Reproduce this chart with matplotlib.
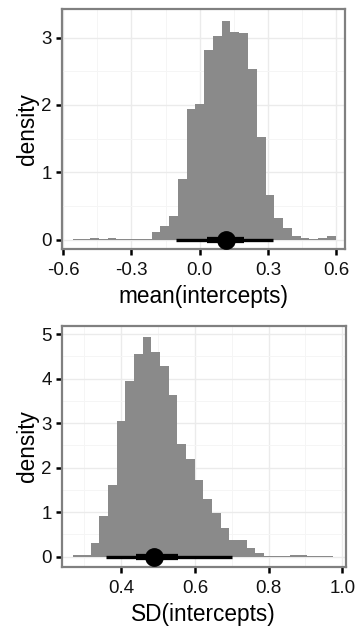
import matplotlib
matplotlib.use("Agg")
import matplotlib.pyplot as plt
import numpy as np

plt.rcParams["font.family"] = ["Liberation Sans", "DejaVu Sans"]

# --- data: histogram densities (30 bins each) and point-interval summaries ---
mean_bin_start = -0.558
mean_bin_width = 0.0385
mean_density = [0.01, 0.01, 0.025, 0.01, 0.025, 0.008, 0.008, 0.005, 0.01, 0.115,
                0.20, 0.35, 0.90, 1.94, 2.01, 2.81, 3.03, 3.25, 3.09, 3.07,
                2.53, 1.52, 0.66, 0.32, 0.17, 0.055, 0.02, 0.01, 0.025, 0.055]
mean_point = 0.117
mean_inner = (0.034, 0.195)
mean_outer = (-0.102, 0.322)

sd_bin_start = 0.270
sd_bin_width = 0.02353
sd_density = [0.04, 0.04, 0.30, 0.92, 1.61, 3.05, 3.95, 4.55, 4.93, 4.60,
              4.28, 3.63, 2.53, 2.19, 1.72, 1.30, 0.99, 0.64, 0.37, 0.37,
              0.20, 0.075, 0.015, 0.015, 0.015, 0.037, 0.037, 0.015, 0.015, 0.015]
sd_point = 0.489
sd_inner = (0.44, 0.553)
sd_outer = (0.360, 0.701)

HIST_COLOR = "#8a8a8a"
BORDER = "#808080"
W, H = 358, 626


def panel(fig, rect_px, density, start, width, point, inner, outer,
          xlim, ylim, xticks, yticks, xminor, yminor, xlabel, xticklabels):
    left, top, right, bottom = rect_px
    ax = fig.add_axes([left / W, 1 - bottom / H, (right - left) / W, (bottom - top) / H])
    edges = start + width * np.arange(len(density))
    ax.bar(edges, density, width=width, align="edge", color=HIST_COLOR,
           linewidth=0, zorder=2)

    # point interval: thin outer, thick inner, big dot
    ax.plot(outer, [0, 0], color="black", lw=2.4, solid_capstyle="butt", zorder=4)
    ax.plot(inner, [0, 0], color="black", lw=4.5, solid_capstyle="butt", zorder=5)
    ax.plot([point], [0], "o", color="black", markersize=12.5, zorder=6)

    ax.set_xlim(*xlim)
    ax.set_ylim(*ylim)
    ax.set_xticks(xticks)
    ax.set_xticklabels(xticklabels)
    ax.set_yticks(yticks)
    ax.set_xticks(xminor, minor=True)
    ax.set_yticks(yminor, minor=True)
    ax.grid(which="major", color="#ebebeb", lw=1.0, zorder=0)
    ax.grid(which="minor", color="#f5f5f5", lw=0.7, zorder=0)
    ax.set_axisbelow(True)
    ax.tick_params(which="major", direction="out", length=4, width=1.8,
                   color="black", labelsize=13.5, labelcolor="#111111")
    ax.tick_params(axis="x", which="major", pad=5.5)
    ax.tick_params(axis="y", which="major", pad=3)
    ax.tick_params(which="minor", length=0)
    for sp in ax.spines.values():
        sp.set_color(BORDER)
        sp.set_linewidth(1.6)
    ax.set_xlabel(xlabel, fontsize=16.3, labelpad=4)
    ax.set_ylabel("density", fontsize=16.3, labelpad=1.5)
    return ax


fig = plt.figure(figsize=(W / 100, H / 100), dpi=100)

panel(fig, (61.5, 9.3, 344.5, 249), mean_density, mean_bin_start, mean_bin_width,
      mean_point, mean_inner, mean_outer,
      xlim=(-0.6066, 0.6356), ylim=(-0.138, 3.42),
      xticks=[-0.6, -0.3, 0.0, 0.3, 0.6], yticks=[0, 1, 2, 3],
      xminor=[-0.45, -0.15, 0.15, 0.45], yminor=[0.5, 1.5, 2.5],
      xlabel="mean(intercepts)",
      xticklabels=["-0.6", "-0.3", "0.0", "0.3", "0.6"])

panel(fig, (61.5, 325.8, 345.5, 567), sd_density, sd_bin_start, sd_bin_width,
      sd_point, sd_inner, sd_outer,
      xlim=(0.238, 1.0087), ylim=(-0.232, 5.19),
      xticks=[0.4, 0.6, 0.8, 1.0], yticks=[0, 1, 2, 3, 4, 5],
      xminor=[0.3, 0.5, 0.7, 0.9], yminor=[0.5, 1.5, 2.5, 3.5, 4.5],
      xlabel="SD(intercepts)",
      xticklabels=["0.4", "0.6", "0.8", "1.0"])

fig.savefig("out.png", dpi=100)
